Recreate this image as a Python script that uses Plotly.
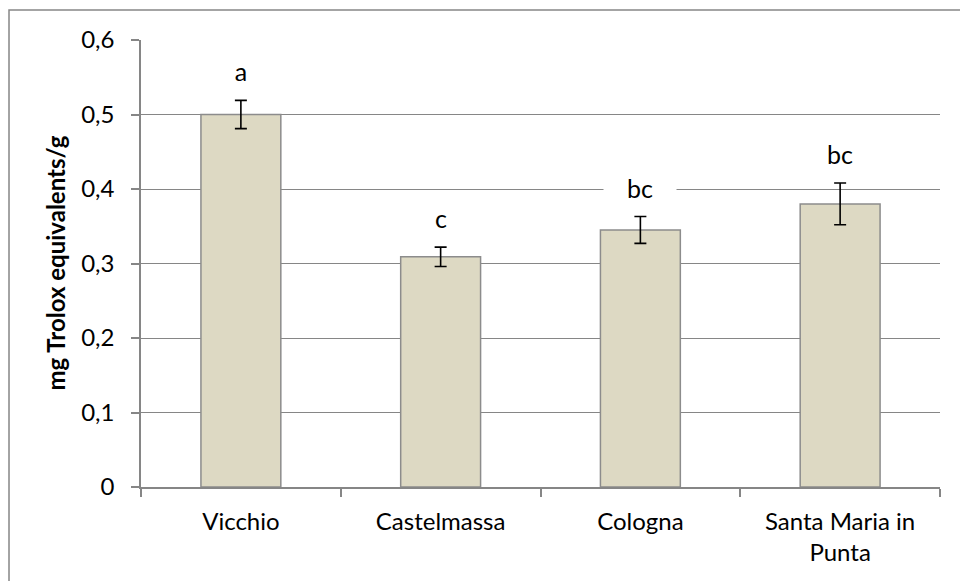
import plotly.graph_objects as go

# Antioxidant capacity by sampling site
sites = ["Vicchio", "Castelmassa", "Cologna", "Santa Maria in<br>Punta"]
values = [0.500, 0.309, 0.345, 0.380]
errors = [0.019, 0.013, 0.018, 0.028]
letters = ["a", "c", "bc", "bc"]
y_ticks = [0, 0.1, 0.2, 0.3, 0.4, 0.5, 0.6]
y_tick_text = ["0", "0,1", "0,2", "0,3", "0,4", "0,5", "0,6"]

FONT = "Lato, 'Open Sans', sans-serif"
GRID = "#868686"

fig = go.Figure()
fig.add_trace(go.Bar(
    x=sites,
    y=values,
    marker=dict(color="#ddd9c3", line=dict(color="#8c8c8c", width=1.5)),
    error_y=dict(type="data", array=errors, visible=True,
                 color="black", thickness=1.6, width=6),
    width=0.4,
    showlegend=False,
))

# significance letters above each error bar
for s, v, e, t in zip(sites, values, errors, letters):
    fig.add_annotation(x=s, y=v + e, text=t, showarrow=False,
                       yanchor="middle", yshift=29, xref="x", yref="y",
                       font=dict(family=FONT, size=25, color="black"),
                       bgcolor="white", width=70, height=28)

# y axis title
fig.add_annotation(x=-0.1076, y=0.5, xref="paper", yref="paper",
                   text="<b>mg Trolox equivalents/g</b>", textangle=-90,
                   showarrow=False, xanchor="center", yanchor="middle",
                   font=dict(family=FONT, size=24, color="black"))

# chart frame
fig.add_shape(type="rect", xref="paper", yref="paper",
              x0=-0.1652, y0=-0.3, x1=1.1, y1=1.0671,
              line=dict(color=GRID, width=1.5), layer="below")

fig.update_layout(
    width=960, height=581,
    margin=dict(l=141, r=20, t=40, b=94),
    paper_bgcolor="white", plot_bgcolor="white",
    font=dict(family=FONT, size=24, color="black"),
    bargap=0.6,
)
fig.update_xaxes(
    showline=True, linecolor=GRID, linewidth=1.5,
    ticks="outside", ticklen=8, tickcolor=GRID, tickwidth=1.5,
    tickson="boundaries", showgrid=False, ticklabelstandoff=12,
    tickfont=dict(family=FONT, size=24, color="black"),
)
fig.update_yaxes(
    range=[0, 0.6], tickvals=y_ticks, ticktext=y_tick_text,
    showline=True, linecolor=GRID, linewidth=1.5,
    ticks="outside", ticklen=8, tickcolor=GRID, tickwidth=1.5,
    showgrid=True, gridcolor=GRID, gridwidth=1.2, zeroline=False,
    ticklabelstandoff=12,
    tickfont=dict(family=FONT, size=24, color="black"),
)

fig.write_html("out.html")
